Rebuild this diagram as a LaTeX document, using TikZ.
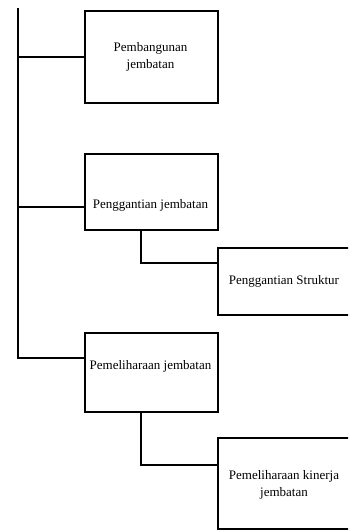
\documentclass[tikz,border=0pt]{standalone}
\usepackage{fontspec}
\setmainfont{Liberation Serif}
\begin{document}
\begin{tikzpicture}[x=1pt,y=-1pt,
  box/.style={draw=black, line width=1.6pt, rectangle, anchor=north west, inner sep=0pt},
  lbl/.style={font=\fontsize{13}{16.5}\selectfont, align=center, inner sep=0pt, text=black},
  conn/.style={draw=black, line width=1.6pt}]
\useasboundingbox (0,0) rectangle (348,532);
\clip (0,0) rectangle (348,532);
% boxes
\node[box, minimum width=133pt, minimum height=92pt] (b1) at (84,10) {};
\node[box, minimum width=133pt, minimum height=76pt] (b2) at (84,153) {};
\node[box, minimum width=133pt, minimum height=79pt] (b3) at (84,332) {};
\node[box, minimum width=150pt, minimum height=67pt] (b4) at (217,247) {};
\node[box, minimum width=150pt, minimum height=91pt] (b5) at (217,437) {};
% labels
\node[lbl] (t1) at (150.5,57) {Pembangunan\\jembatan};
\node[lbl] (t2) at (150.5,205) {Penggantian jembatan};
\node[lbl] (t3) at (150.5,366) {Pemeliharaan jembatan};
\node[lbl] (t4) at (284,281) {Penggantian Struktur};
\node[lbl] (t5) at (284,485) {Pemeliharaan kinerja\\jembatan};
% connector points
\coordinate (top) at (18,8);
\coordinate (j1) at (18,57);
\coordinate (j2) at (18,207);
\coordinate (j3) at (18,358);
\coordinate (s4) at (141,263);
\coordinate (s5) at (141,465);
% connectors
\draw[conn] (top) -- (j3) -- (j3 -| b3.west);
\draw[conn] (j1) -- (j1 -| b1.west);
\draw[conn] (j2) -- (j2 -| b2.west);
\draw[conn] (s4 |- b2.south) -- (s4) -- (s4 -| b4.west);
\draw[conn] (s5 |- b3.south) -- (s5) -- (s5 -| b5.west);
\end{tikzpicture}
\end{document}
